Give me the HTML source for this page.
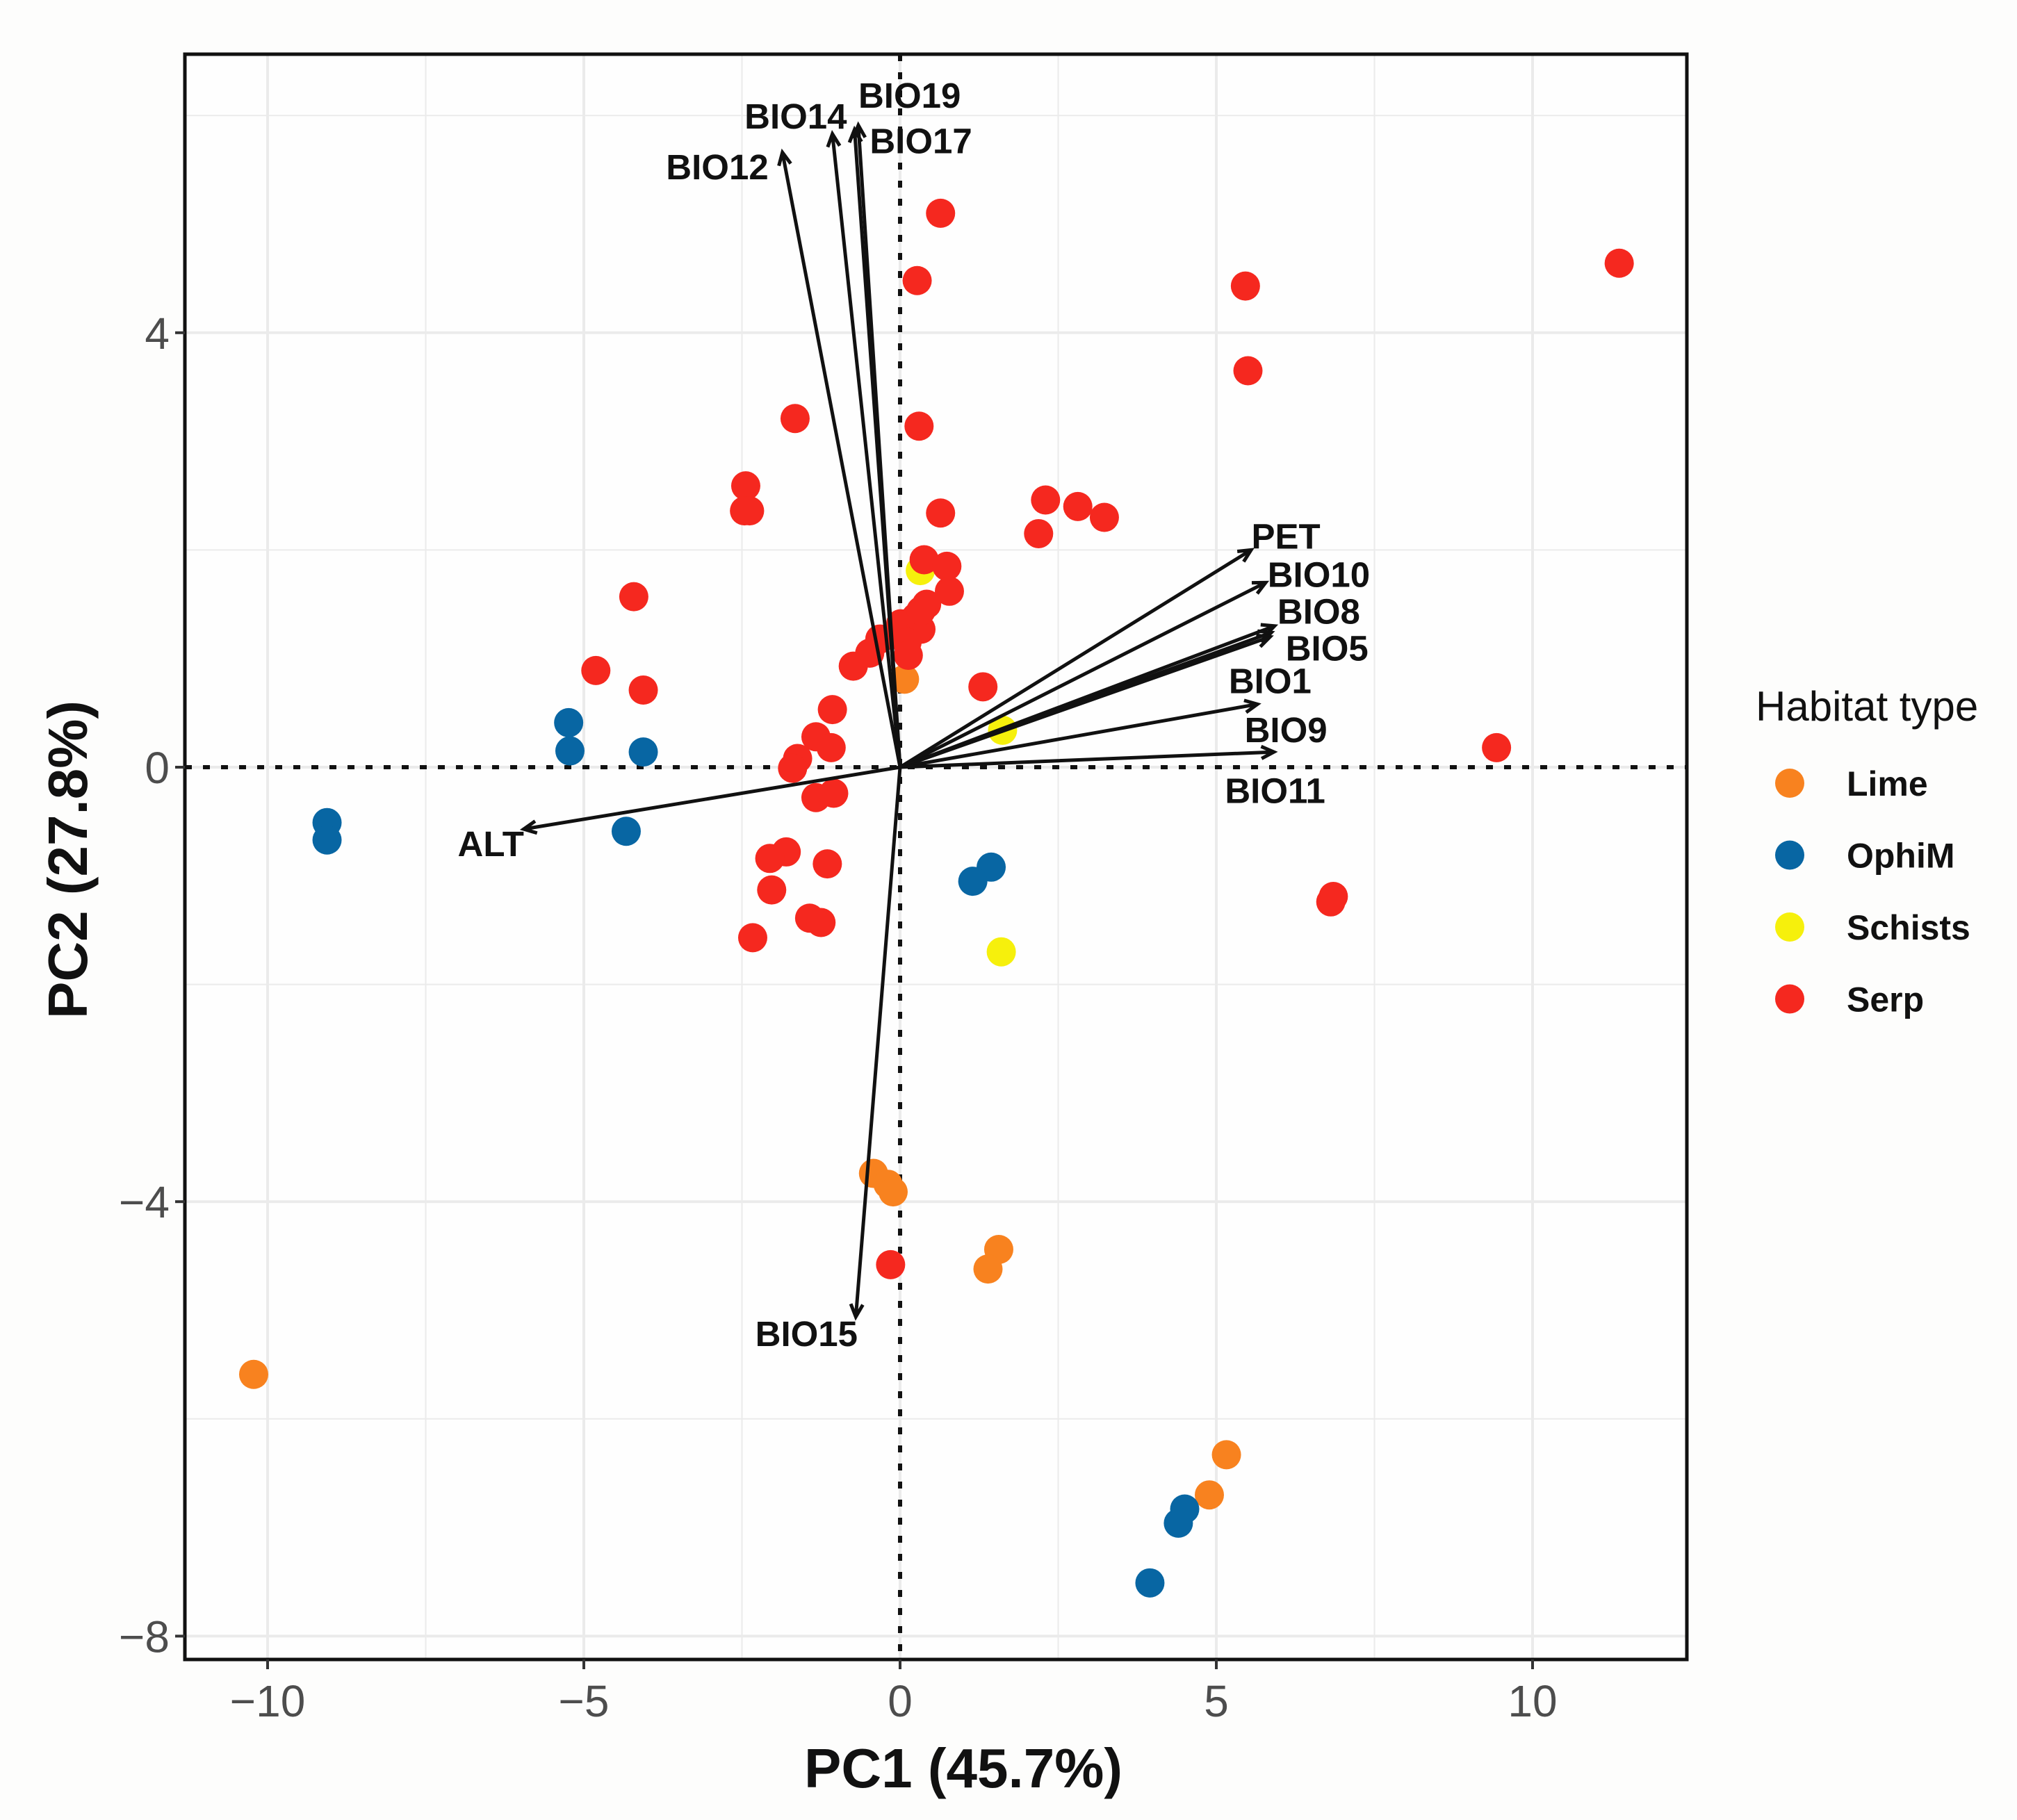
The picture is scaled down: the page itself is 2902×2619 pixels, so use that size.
<!DOCTYPE html>
<html><head><meta charset="utf-8"><style>
html,body{margin:0;padding:0;background:#fdfdfc;}
svg{display:block;font-family:"Liberation Sans",Arial,sans-serif;}
</style></head><body>
<svg id="chart" width="2902" height="2619" viewBox="0 0 2902 2619" xmlns="http://www.w3.org/2000/svg"></svg>
<script>
const xTicks=[-10,-5,0,5,10];
const yTicks=[4,0,-4,-8];
const xMinor=[-7.5,-2.5,2.5,7.5];
const yMinor=[6,2,-2,-6];
const groups=['Lime','OphiM','Schists','Serp'];
const groupColors=['#f8821f','#0866a3','#f6f00c','#f5281f'];
const limeX=[0.07,-0.42,-0.19,-0.11,1.56,1.39,-10.22,5.16,4.89];
const limeY=[0.81,-3.74,-3.84,-3.91,-4.44,-4.62,-5.59,-6.33,-6.70];
const ophiX=[-5.24,-5.22,-4.06,-9.06,-9.06,-4.33,1.44,1.15,4.50,4.40,3.95];
const ophiY=[0.41,0.15,0.14,-0.51,-0.67,-0.59,-0.92,-1.05,-6.83,-6.96,-7.51];
const schX=[0.32,1.62,1.60];
const schY=[1.81,0.34,-1.70];
const serpX=[0.64,0.27,11.37,5.46,5.50,-1.66,0.30,-2.44,-2.46,-2.38,0.64,2.30,2.81,3.23,2.19,0.38,0.74,0.78,-4.21,0.42,0.25,0.01,0.33,0.11,-0.32,-0.48,-0.74,0.13,0.33,-4.81,-4.06,1.31,-1.07,-1.33,-1.09,-1.62,-1.70,-1.33,-1.05,-1.80,-2.06,-2.03,-1.15,-1.43,-1.25,-2.33,9.43,6.85,6.81,-0.15];
const serpY=[5.10,4.48,4.64,4.43,3.65,3.21,3.14,2.59,2.36,2.36,2.34,2.46,2.40,2.30,2.15,1.91,1.85,1.62,1.57,1.50,1.38,1.32,1.27,1.15,1.18,1.05,0.93,1.03,1.44,0.89,0.71,0.74,0.53,0.28,0.18,0.08,-0.01,-0.28,-0.24,-0.78,-0.84,-1.13,-0.89,-1.39,-1.43,-1.57,0.18,-1.19,-1.24,-4.58];
const arrowNames=['BIO12','BIO14','BIO19','BIO17','PET','BIO10','BIO8','BIO5','BIO1','BIO9','BIO11','ALT','BIO15'];
const arrowX=[-1.86,-1.07,-0.66,-0.72,5.55,5.78,5.92,5.87,5.85,5.65,5.91,-5.95,-0.70];
const arrowY=[5.66,5.83,5.91,5.87,2.00,1.70,1.30,1.24,1.20,0.58,0.14,-0.57,-5.06];
const labelX=[-2.89,-1.65,0.15,0.33,6.10,6.62,6.62,6.75,5.85,6.10,5.93,-6.47,-1.48];
const labelY=[5.52,5.99,6.18,5.76,2.12,1.77,1.43,1.09,0.79,0.34,-0.22,-0.71,-5.22];

const L=266,R=2427,T=78,B=2388;
const sx=v=>1295+v*91.0;
const sy=v=>1104-v*156.3;
const svg=document.getElementById('chart');
const NS='http://www.w3.org/2000/svg';
function mk(tag,attrs,parent){const e=document.createElementNS(NS,tag);for(const k in attrs)e.setAttribute(k,attrs[k]);(parent||svg).appendChild(e);return e;}

const bg=mk('rect',{x:L,y:T,width:R-L,height:B-T,fill:'#fefefe'});


const grid=mk('g',{stroke:'#ebebeb'});


xMinor.forEach(v=>mk('line',{x1:sx(v),x2:sx(v),y1:T,y2:B,'stroke-width':2},grid));
yMinor.forEach(v=>mk('line',{y1:sy(v),y2:sy(v),x1:L,x2:R,'stroke-width':2},grid));
xTicks.forEach(v=>mk('line',{x1:sx(v),x2:sx(v),y1:T,y2:B,'stroke-width':4},grid));
yTicks.forEach(v=>mk('line',{y1:sy(v),y2:sy(v),x1:L,x2:R,'stroke-width':4},grid));

const z1=mk('line',{x1:L,x2:R,y1:sy(0),y2:sy(0),stroke:'#111','stroke-width':6,'stroke-dasharray':'10 16'});


const z2=mk('line',{x1:sx(0),x2:sx(0),y1:T,y2:B,stroke:'#111','stroke-width':6,'stroke-dasharray':'10 16'});



const series=[[limeX,limeY],[ophiX,ophiY],[schX,schY],[serpX,serpY]];
series.forEach((s,gi)=>{
  const g=mk('g',{fill:groupColors[gi]});
  
  
  s[0].forEach((x,i)=>{
    const c=mk('circle',{cx:sx(x),cy:sy(s[1][i]),r:21},g);
    
    
  });
});

const ag=mk('g',{stroke:'#111','stroke-width':5,fill:'none'});


arrowNames.forEach((n,i)=>{
  const x1=sx(0),y1=sy(0),x2=sx(arrowX[i]),y2=sy(arrowY[i]);
  const a=Math.atan2(y2-y1,x2-x1),h=20,w=0.45;
  const ln=mk('path',{d:`M${x1},${y1}L${x2},${y2}M${x2-h*Math.cos(a-w)},${y2-h*Math.sin(a-w)}L${x2},${y2}L${x2-h*Math.cos(a+w)},${y2-h*Math.sin(a+w)}`},ag);
  
  
  const t=mk('text',{x:sx(labelX[i]),y:sy(labelY[i])+17,'text-anchor':'middle','font-size':51,'font-weight':'bold',fill:'#111'});
  t.textContent=n;
  
  
});

const frame=mk('rect',{x:L,y:T,width:R-L,height:B-T,fill:'none',stroke:'#111','stroke-width':5});



xTicks.forEach(v=>{
  mk('line',{x1:sx(v),x2:sx(v),y1:B,y2:B+14,stroke:'#333','stroke-width':4});
  const t=mk('text',{x:sx(v),y:B+82,'text-anchor':'middle','font-size':64,fill:'#4d4d4d'});
  t.textContent=v<0?'\u2212'+(-v):String(v);
  
  
});
yTicks.forEach(v=>{
  mk('line',{x1:L-14,x2:L,y1:sy(v),y2:sy(v),stroke:'#333','stroke-width':4});
  const t=mk('text',{x:L-22,y:sy(v)+23,'text-anchor':'end','font-size':64,fill:'#4d4d4d'});
  t.textContent=v<0?'\u2212'+(-v):String(v);
  
  
});

const xt=mk('text',{x:1386,y:2572,'text-anchor':'middle','font-size':80,'font-weight':'bold',fill:'#111'});
xt.textContent='PC1 (45.7%)';


const yt=mk('text',{x:0,y:0,'text-anchor':'middle','font-size':80,'font-weight':'bold',fill:'#111',transform:'translate(125,1237) rotate(-90)'});
yt.textContent='PC2 (27.8%)';



const lg=mk('g',{});


const lt=mk('text',{x:2526,y:1037,'font-size':60,fill:'#111'},lg);
lt.textContent='Habitat type';


groups.forEach((n,i)=>{
  const y=1127+i*103.5;
  const c=mk('circle',{cx:2575,cy:y,r:21,fill:groupColors[i]},lg);
  
  
  const t=mk('text',{x:2657,y:y+18,'font-size':50,'font-weight':'bold',fill:'#111'},lg);
  t.textContent=n;
  
  
});
</script>
</body></html>
